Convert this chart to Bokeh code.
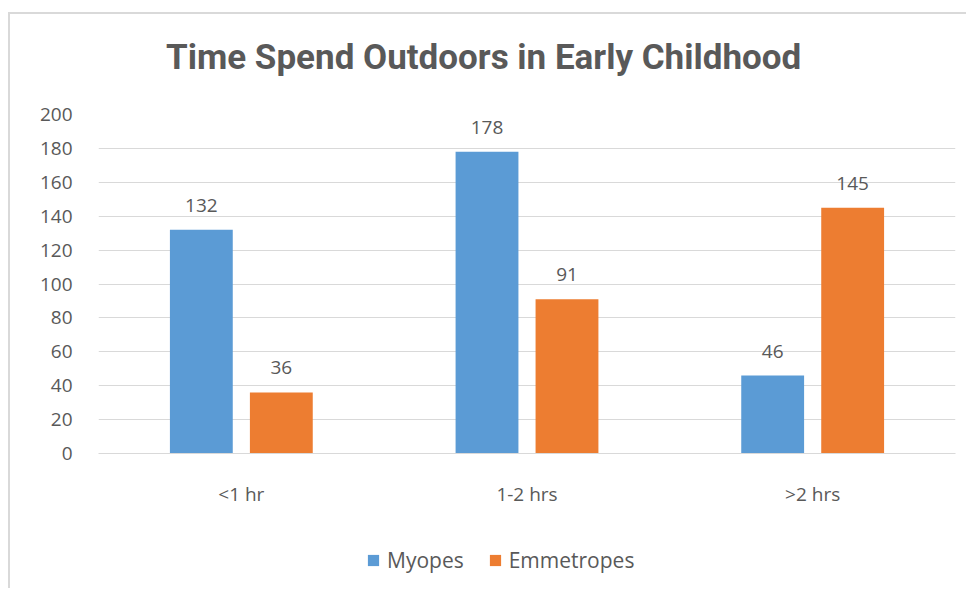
from bokeh.plotting import figure
from bokeh.models import (ColumnDataSource, FactorRange, Range1d, Legend, LegendItem,
                          FixedTicker, Div)
from bokeh.layouts import column
from bokeh.transform import dodge
from bokeh.embed import file_html
from bokeh.resources import INLINE
from bokeh.core.properties import value

title_text = "Time Spend Outdoors in Early Childhood"
categories = ["<1 hr", "1-2 hrs", ">2 hrs"]
myopes = [132, 178, 46]
emmetropes = [36, 91, 145]
y_ticks = [0, 20, 40, 60, 80, 100, 120, 140, 160, 180, 200]

BLUE = "#5B9BD5"
ORANGE = "#ED7D31"
TXT = "#595959"
GRID = "#d9d9d9"
FONT = "Open Sans"
TITLE_FONT = "Roboto"

source = ColumnDataSource(dict(
    cat=categories,
    myopes=myopes,
    emmetropes=emmetropes,
    myopes_lbl=[str(v) for v in myopes],
    emmetropes_lbl=[str(v) for v in emmetropes],
))

W = 956

head = Div(text=title_text, width=W, height=80, margin=0,
           styles={"font-family": TITLE_FONT, "font-size": "35px", "font-weight": "bold",
                   "color": TXT, "line-height": "35px", "white-space": "nowrap",
                   "padding-left": "156px", "padding-top": "26px",
                   "box-sizing": "border-box", "background-color": "white"})

p = figure(width=W, height=440, x_range=FactorRange(*categories, range_padding=0),
           y_range=Range1d(0, 200), output_backend="svg", toolbar_location=None,
           min_border_left=88, min_border_right=11, min_border_top=20,
           min_border_bottom=81)
p.outline_line_color = None
p.background_fill_color = "white"
p.border_fill_color = "white"

r1 = p.vbar(x=dodge("cat", -0.14, range=p.x_range), top="myopes", width=0.22,
            source=source, fill_color=BLUE, line_color=None)
r2 = p.vbar(x=dodge("cat", 0.14, range=p.x_range), top="emmetropes", width=0.22,
            source=source, fill_color=ORANGE, line_color=None)

for col, off in (("myopes", -0.14), ("emmetropes", 0.14)):
    p.text(x=dodge("cat", off, range=p.x_range), y=col, text=col + "_lbl",
           source=source, text_align="center", text_baseline="bottom",
           y_offset=-18, text_font=value(FONT), text_font_size="19px",
           text_color=TXT)

p.yaxis.ticker = FixedTicker(ticks=y_ticks)
p.yaxis.axis_line_color = None
p.yaxis.major_tick_line_color = None
p.yaxis.minor_tick_line_color = None
p.yaxis.major_label_text_font = FONT
p.yaxis.major_label_text_font_size = "19px"
p.yaxis.major_label_text_color = TXT
p.yaxis.major_label_standoff = 20

p.xaxis.axis_line_color = GRID
p.xaxis.axis_line_width = 1
p.xaxis.major_tick_line_color = None
p.xaxis.minor_tick_line_color = None
p.xaxis.major_label_text_font = FONT
p.xaxis.major_label_text_font_size = "19px"
p.xaxis.major_label_text_color = TXT
p.xaxis.major_label_standoff = 21

p.xgrid.grid_line_color = None
p.ygrid.grid_line_color = GRID
p.ygrid.grid_line_width = 1

# legend strip underneath the chart (its swatch renderers sit outside the visible range)
lg = figure(width=W, height=54, x_range=Range1d(0, 1), y_range=Range1d(0, 1),
            output_backend="svg", toolbar_location=None,
            min_border_left=0, min_border_right=0, min_border_top=0,
            min_border_bottom=0)
lg.axis.visible = False
lg.grid.visible = False
lg.outline_line_color = None
lg.border_fill_color = "white"
swatch = ColumnDataSource(dict(x=[5], y=[5]))
g1 = lg.scatter(x="x", y="y", marker="square", size=12, source=swatch,
                fill_color=BLUE, line_color=None)
g2 = lg.scatter(x="x", y="y", marker="square", size=12, source=swatch,
                fill_color=ORANGE, line_color=None)
legend = Legend(items=[LegendItem(label="Myopes", renderers=[g1]),
                       LegendItem(label="Emmetropes", renderers=[g2])],
                orientation="horizontal", location=(261, 14),
                glyph_width=28, glyph_height=28, label_text_font=FONT,
                label_text_font_size="21px", label_text_color=TXT,
                spacing=17, label_standoff=0, border_line_color=None,
                background_fill_alpha=0, padding=0, margin=0)
lg.add_layout(legend, "center")

layout = column(head, p, lg, spacing=0, margin=(12, 0, 0, 8))
layout.styles = {"border-left": "2px solid #d9d9d9", "border-top": "2px solid #d9d9d9"}

open("out.html", "w").write(file_html(layout, INLINE))
